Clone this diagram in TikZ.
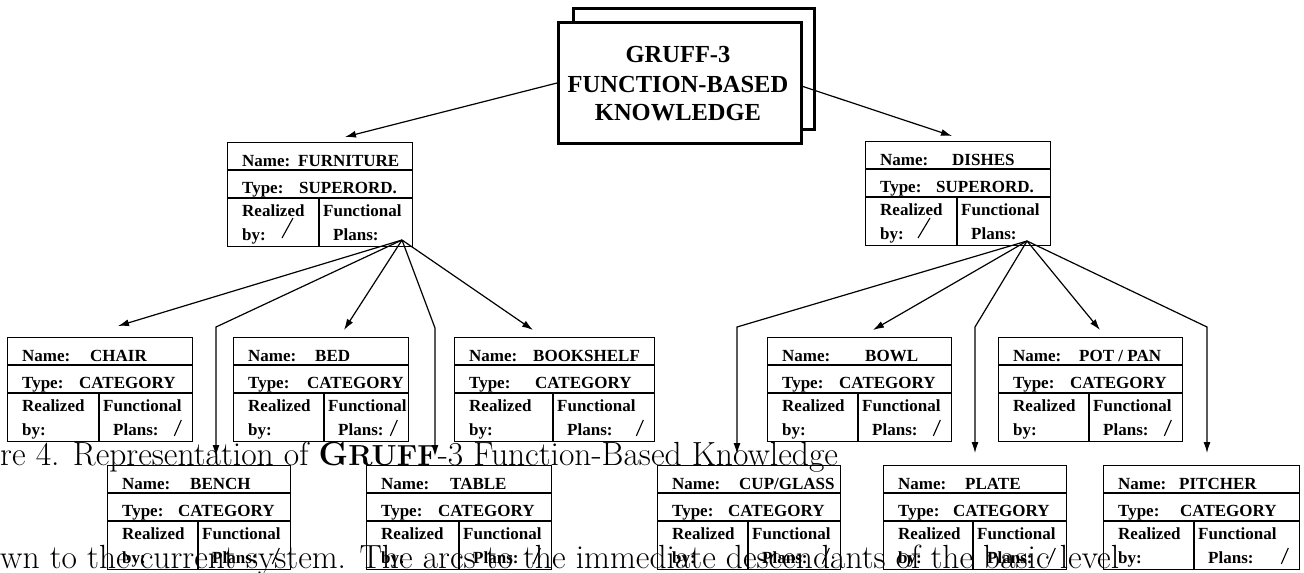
\documentclass[tikz,border=0pt]{standalone}
\usepackage{fontspec}
\newfontfamily\tms{Liberation Serif}
\usetikzlibrary{arrows.meta,calc}
\tikzset{
  boxline/.style={line width=1.3pt},
  thickbox/.style={draw, line width=3pt, inner sep=0pt},
  arr/.style={line width=1.2pt,-{Latex[length=11pt,width=7pt]}},
  lbl/.style={font=\tms\bfseries\fontsize{17}{19}\selectfont, anchor=base west, inner sep=0pt},
  big/.style={font=\tms\bfseries\fontsize{24.5}{29}\selectfont, align=center, inner sep=0pt},
  captxt/.style={font=\fontsize{33.5}{38}\selectfont, anchor=base west, inner sep=0pt},
  slash/.style={line width=1.1pt},
}
% #1 id, #2 x0, #3 y0, #4 width, #5 divider offset, #6 name value, #7 value offset, #8 type value, #9 type offset
\newcommand{\kbox}[9]{%
  \node[draw, boxline, minimum width=#4pt, minimum height=104pt, anchor=north west, inner sep=0pt] (#1) at (#2,#3) {};
  \draw[boxline] ($(#1.north west)+(0,28)$) -- ($(#1.north east)+(0,28)$);
  \draw[boxline] ($(#1.north west)+(0,56)$) -- ($(#1.north east)+(0,56)$);
  \draw[boxline] ($(#1.north west)+(#5,56)$) -- ($(#1.south west)+(#5,0)$);
  \node[lbl] (#1-nl) at ($(#1.north west)+(15,24)$) {Name:};
  \node[lbl] (#1-nv) at ($(#1.north west)+(#7,24)$) {#6};
  \node[lbl] (#1-tl) at ($(#1.north west)+(15,51)$) {Type:};
  \node[lbl] (#1-tv) at ($(#1.north west)+(#9,51)$) {#8};
  \node[lbl] (#1-rl) at ($(#1.north west)+(15,74.5)$) {Realized};
  \node[lbl] (#1-bl) at ($(#1.north west)+(15,98.5)$) {by:};
  \node[lbl] (#1-fl) at ($(#1.north west)+(#5+4,74.5)$) {Functional};
  \node[lbl] (#1-pl) at ($(#1.north west)+(#5+14,98.5)$) {Plans:};
}
\newcommand{\fslash}[1]{\draw[slash] ($(#1.north east)+(-12,83)$) -- ($(#1.north east)+(-19,99)$);}
\begin{document}
\begin{tikzpicture}[x=1pt,y=-1pt]
\useasboundingbox (0,0) rectangle (1304,573);
% caption text of the page behind the figure
\node[captxt] (cap1) at (0,465) {re 4. Representation of {\bfseries G{\fontsize{29}{33}\selectfont RUFF}}-3 Function-Based Knowledge};
\node[captxt] (cap2) at (0,568) {wn to the current system. The arcs to the immediate descendants of the basic level};

% top box
\node[thickbox, minimum width=241pt, minimum height=121pt, anchor=north west] (gruffback) at (572,7) {};
\node[thickbox, fill=white, minimum width=243pt, minimum height=121pt, anchor=north west] (gruff) at (557,21) {};
\node[big] (gt1) at (678,55) {GRUFF-3};
\node[big] (gt2) at (678,85) {FUNCTION-BASED};
\node[big] (gt3) at (678,113) {KNOWLEDGE};

% superordinate boxes
\kbox{furn}{227}{142}{185}{92}{FURNITURE}{71}{SUPERORD.}{72}
\kbox{dish}{865}{141}{185}{92}{DISHES}{87}{SUPERORD.}{71}
\draw[slash] ($(furn.north west)+(66,76)$) -- ($(furn.north west)+(55,96)$);
\draw[slash] ($(dish.north west)+(65,77)$) -- ($(dish.north west)+(53,97)$);
\coordinate (o1) at ($(furn.north west)+(175,98)$);
\coordinate (o2) at ($(dish.north west)+(162,100)$);

% category boxes, first row
\kbox{chair}{7}{337}{185}{92}{CHAIR}{83}{CATEGORY}{72}
\kbox{bed}{233}{337}{175}{91}{BED}{82}{CATEGORY}{74}
\kbox{shelf}{454}{337}{200}{99}{BOOKSHELF}{79}{CATEGORY}{81}
\kbox{bowl}{767}{337}{184}{91}{BOWL}{98}{CATEGORY}{72}
\kbox{pot}{998}{337}{184}{91}{POT / PAN}{81}{CATEGORY}{72}
% second row
\kbox{bench}{107}{465}{183}{91}{BENCH}{83}{CATEGORY}{71}
\kbox{table}{366}{465}{185}{93}{TABLE}{84}{CATEGORY}{72}
\kbox{cup}{657}{465}{183}{91}{CUP/GLASS}{82}{CATEGORY}{71}
\kbox{plate}{883}{465}{183}{90}{PLATE}{82}{CATEGORY}{70}
\kbox{pitcher}{1103}{465}{196}{91}{PITCHER}{76}{CATEGORY}{77}
\foreach \b in {chair,bed,shelf,bowl,pot,bench,table,cup,plate,pitcher}{\fslash{\b}}

% connectors from the top box
\coordinate (tfurn) at (345,137);
\coordinate (tdish) at (952,136);
\draw[arr] (gruff.west) -- (tfurn);
\draw[arr] ([yshift=-3.5pt]gruff.east) -- (tdish);

% connectors from FURNITURE
\coordinate (tchair) at (118,326);
\coordinate (tbed) at (344,330);
\coordinate (tshelf) at (533,330);
\coordinate (tbench) at (216,456);
\coordinate (ttable) at (435,456);
\draw[arr] (o1) -- (tchair);
\draw[arr] (o1) -- (tbed);
\draw[arr] (o1) -- (tshelf);
\draw[arr] (o1) -- (216,327) -- (tbench);
\draw[arr] (o1) -- (435,328) -- (ttable);

% connectors from DISHES
\coordinate (tbowl) at (873,330);
\coordinate (tpot) at (1100,330);
\coordinate (tcup) at (737,454);
\coordinate (tplate) at (975,453);
\coordinate (tpitcher) at (1207,453);
\draw[arr] (o2) -- (tbowl);
\draw[arr] (o2) -- (tpot);
\draw[arr] (o2) -- (737,327) -- (tcup);
\draw[arr] (o2) -- (975,327) -- (tplate);
\draw[arr] (o2) -- (1207,327) -- (tpitcher);
\end{tikzpicture}
\end{document}
